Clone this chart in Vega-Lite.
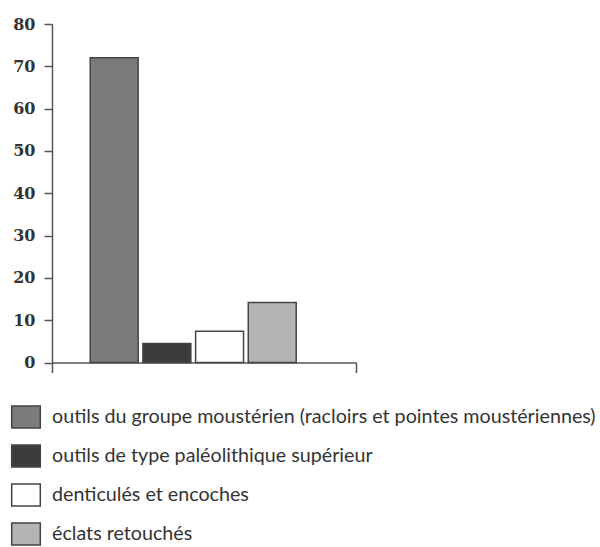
{
  "$schema": "https://vega.github.io/schema/vega-lite/v6.json",
  "autosize": {"type": "none"},
  "width": 304,
  "height": 338.5,
  "padding": {"left": 52, "top": 24, "right": 244, "bottom": 184.5},
  "background": "white",
  "config": {
    "view": {"stroke": null},
    "axis": {"grid": false, "domainColor": "#555", "tickColor": "#555", "domainWidth": 1.5, "tickWidth": 1.5}
  },
  "data": {
    "values": [
      {"cat": "outils du groupe moustérien (racloirs et pointes moustériennes)", "val": 72},
      {"cat": "outils de type paléolithique supérieur", "val": 4.5},
      {"cat": "denticulés et encoches", "val": 7.4},
      {"cat": "éclats retouchés", "val": 14.2}
    ]
  },
  "layer": [
    {
      "mark": {"type": "bar", "stroke": "#444", "strokeWidth": 1.5},
      "encoding": {
        "x": {
          "field": "cat", "type": "nominal", "sort": null,
          "scale": {"paddingInner": 0.09, "paddingOuter": 0.93, "align": 0.39},
          "axis": null
        },
        "y": {
          "field": "val", "type": "quantitative",
          "scale": {"domain": [0, 80], "nice": false},
          "axis": {
            "values": [0, 10, 20, 30, 40, 50, 60, 70, 80],
            "title": null, "tickSize": 8, "labelPadding": 9,
            "labelFont": "DejaVu Serif", "labelFontWeight": "bold",
            "labelFontSize": 16, "labelColor": "#333"
          }
        },
        "fill": {
          "field": "cat", "type": "nominal", "sort": null,
          "scale": {"range": ["#7b7b7b", "#3c3c3c", "#ffffff", "#b4b4b4"]},
          "legend": {
            "title": null, "orient": "none", "direction": "vertical",
            "legendX": -38, "legendY": 381,
            "symbolType": "M-1.3,-1L1.3,-1L1.3,1L-1.3,1Z",
            "symbolSize": 484, "symbolStrokeColor": "#444", "symbolStrokeWidth": 1.5,
            "rowPadding": 11, "labelOffset": 14,
            "labelFont": "Lato", "labelFontSize": 19.7, "labelColor": "#333", "labelLimit": 700
          }
        }
      }
    },
    {
      "mark": {"type": "rule", "opacity": 0},
      "encoding": {
        "x": {
          "datum": 0, "type": "quantitative",
          "scale": {"domain": [0, 1], "nice": false},
          "axis": {"values": [0, 1], "labels": false, "tickSize": 10, "title": null, "orient": "bottom"}
        }
      }
    }
  ],
  "resolve": {"scale": {"x": "independent"}}
}
